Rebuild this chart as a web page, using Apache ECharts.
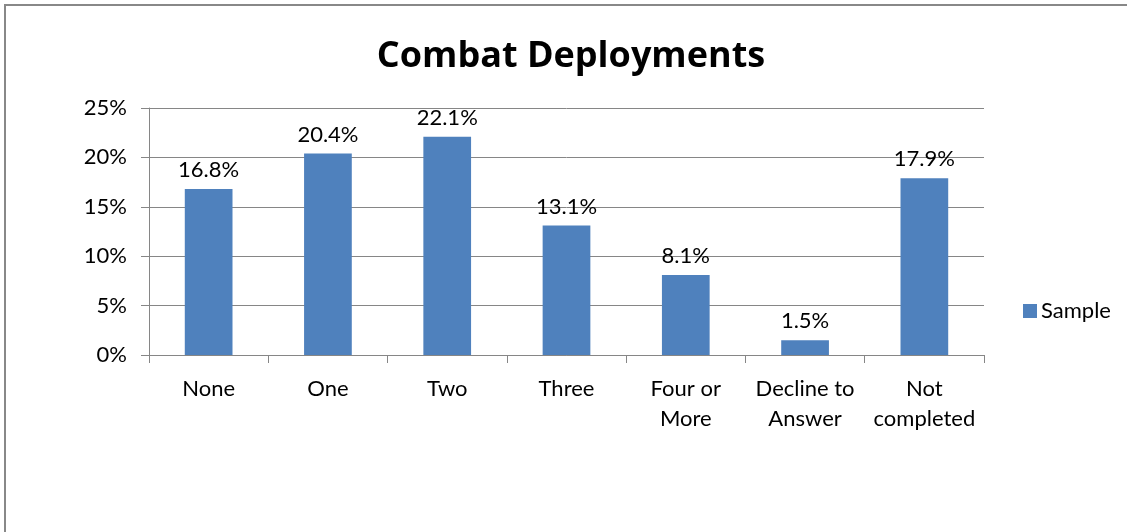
<!DOCTYPE html>
<html>
<head>
<meta charset="utf-8">
<script src="https://cdn.jsdelivr.net/npm/echarts@6/dist/echarts.min.js"></script>
<style>
  html, body { margin: 0; padding: 0; background: #fff; }
  #chart { width: 1127px; height: 532px; }
</style>
</head>
<body>
<div id="chart"></div>
<script>
// Share of respondents by number of combat deployments (percent)
const categories = ['None', 'One', 'Two', 'Three', 'Four or\nMore', 'Decline to\nAnswer', 'Not\ncompleted'];
const sampleValues = [16.8, 20.4, 22.1, 13.1, 8.1, 1.5, 17.9];
const yTicks = { min: 0, max: 25, interval: 5 };

const FONT = 'Lato, "Open Sans", sans-serif';
const chart = echarts.init(document.getElementById('chart'));

chart.setOption({
  backgroundColor: '#fff',
  animation: false,
  title: {
    text: 'Combat Deployments',
    left: 566,
    textAlign: 'center',
    top: 34,
    textStyle: { fontFamily: '"Open Sans", Lato, sans-serif', fontSize: 36, fontWeight: 'bold', color: '#000' }
  },
  legend: {
    data: ['Sample'],
    left: 1018,
    top: 295,
    itemWidth: 14,
    itemHeight: 14,
    itemGap: 6,
    icon: 'rect',
    textStyle: { fontFamily: FONT, fontSize: 22, color: '#000', padding: [0, 0, 0, -1] }
  },
  grid: { left: 149, right: 143, top: 108, bottom: 177 },
  xAxis: {
    type: 'category',
    data: categories,
    axisLine: { lineStyle: { color: '#868686', width: 1 } },
    axisTick: { show: true, length: 8, lineStyle: { color: '#868686' } },
    axisLabel: {
      interval: 0,
      margin: 19,
      lineHeight: 30,
      fontFamily: FONT,
      fontSize: 22,
      color: '#000'
    }
  },
  yAxis: {
    type: 'value',
    min: yTicks.min,
    max: yTicks.max,
    interval: yTicks.interval,
    axisLine: { show: true, lineStyle: { color: '#868686', width: 1 } },
    axisTick: { show: true, length: 8, lineStyle: { color: '#868686' } },
    splitLine: { lineStyle: { color: '#868686', width: 1 } },
    axisLabel: {
      formatter: '{value}%',
      margin: 22,
      fontFamily: FONT,
      fontSize: 22,
      color: '#000'
    }
  },
  series: [{
    name: 'Sample',
    type: 'bar',
    data: sampleValues,
    barWidth: '40%',
    itemStyle: { color: '#4F81BD' },
    label: {
      show: true,
      position: 'top',
      distance: 8,
      formatter: p => p.value.toFixed(1) + '%',
      fontFamily: FONT,
      fontSize: 22,
      color: '#000'
    }
  }],
  graphic: [{
    type: 'rect',
    shape: { x: 5, y: 5, width: 1140, height: 560 },
    style: { fill: null, stroke: '#888', lineWidth: 2 },
    silent: true
  }]
});
</script>
</body>
</html>
